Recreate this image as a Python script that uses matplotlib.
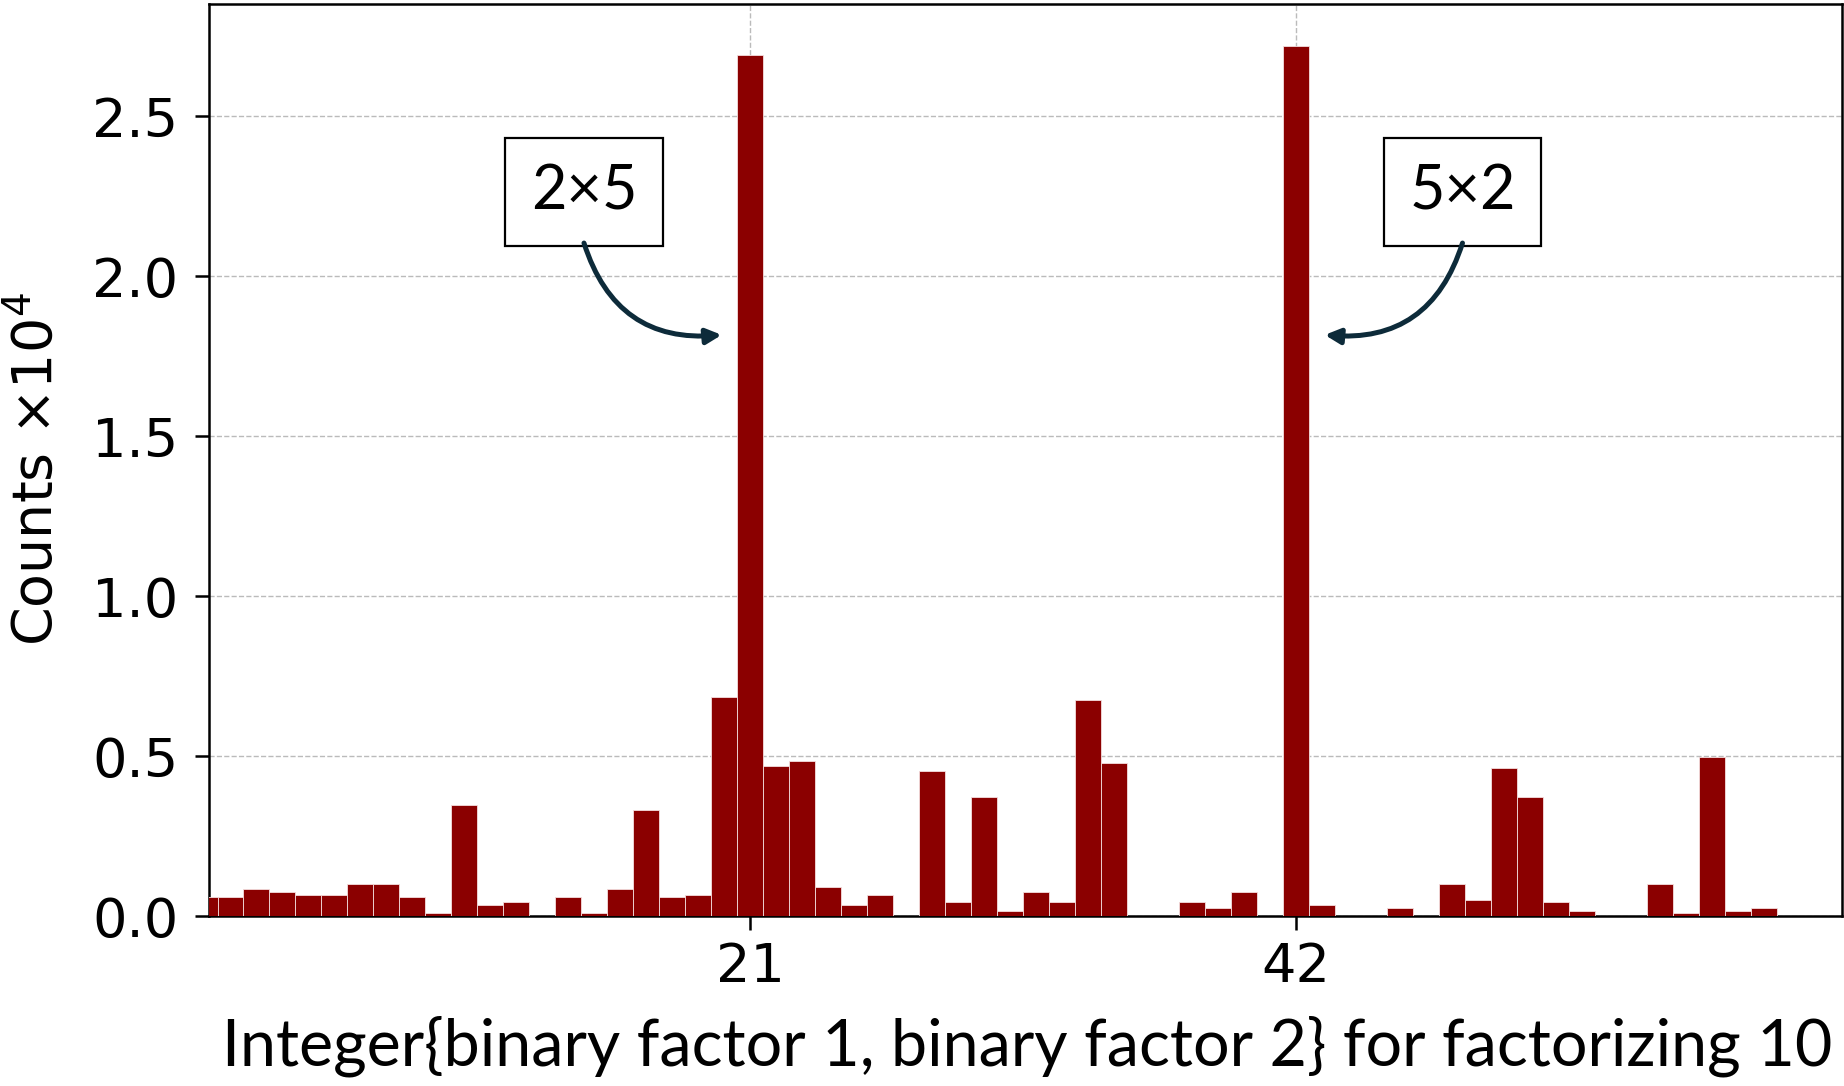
import numpy as np
import matplotlib
matplotlib.use("Agg")
import matplotlib.pyplot as plt

plt.rcParams["font.family"] = ["DejaVu Sans"]

# integer = 8*factor1 + factor2, counts in units of 1e4
codes = list(range(64))
counts = [0.058, 0.058, 0.083, 0.075, 0.067, 0.067, 0.100, 0.100,
          0.058, 0.010, 0.346, 0.033, 0.043, 0.000, 0.058, 0.010,
          0.083, 0.331, 0.058, 0.067, 0.685, 2.690, 0.470, 0.486,
          0.092, 0.033, 0.067, 0.000, 0.453, 0.043, 0.371, 0.017,
          0.075, 0.043, 0.675, 0.479, 0.000, 0.000, 0.043, 0.026,
          0.075, 0.000, 2.720, 0.033, 0.000, 0.000, 0.026, 0.000,
          0.100, 0.050, 0.462, 0.371, 0.043, 0.017, 0.000, 0.000,
          0.100, 0.010, 0.496, 0.017, 0.026, 0.000, 0.000, 0.000]
xticks = [21, 42]
yticks = [0.0, 0.5, 1.0, 1.5, 2.0, 2.5]
peaks = [(21, "2×5"), (42, "5×2")]

fig = plt.figure(figsize=(18.44, 10.86), dpi=100)
ax = fig.add_axes([0.1133, 0.1565, 0.8856, 0.8398])

ax.bar(codes, counts, width=1.0, color="#8b0000", edgecolor="#f4dede",
       linewidth=0.6, zorder=3)

ax.set_xlim(0.17, 63.0)
ax.set_ylim(0, 2.85)
ax.set_xticks(xticks)
ax.set_yticks(yticks)
ax.set_yticklabels(["%.1f" % v for v in yticks])
ax.grid(True, linestyle="--", color="#bbbbbb", linewidth=1.0, zorder=0)
ax.tick_params(axis="both", labelsize=39, length=10, width=1.8)
ax.tick_params(axis="y", pad=12)
ax.tick_params(axis="x", pad=8)
for s in ax.spines.values():
    s.set_linewidth(1.8)

ax.set_ylabel(r"Counts $\times 10^4$", fontsize=40)
ax.yaxis.set_label_coords(-0.089, 0.49)

fig.text(0.557, 0.037, "Integer{binary factor 1, binary factor 2} for factorizing 10",
         fontsize=46.5, family="Lato", ha="center", va="center")

# callouts pointing at the two correct factorizations
for (pos, lab), side in zip(peaks, [-1, 1]):
    bx = pos + side * 6.4
    ax.text(bx, 2.262, lab, fontsize=44, family="Lato", ha="center", va="center",
            bbox=dict(boxstyle="square,pad=0.42", fc="white", ec="black", lw=1.6),
            zorder=5)
    ax.annotate("", xy=(pos + side * 1.1, 1.816), xytext=(bx, 2.103),
                arrowprops=dict(arrowstyle="-|>,head_length=0.9,head_width=0.45",
                                color="#0d2b3a", lw=3.6, shrinkA=0, shrinkB=0,
                                connectionstyle="arc3,rad=%.1f" % (0.4 * -side)),
                zorder=5)

fig.savefig("out.png", dpi=100)
